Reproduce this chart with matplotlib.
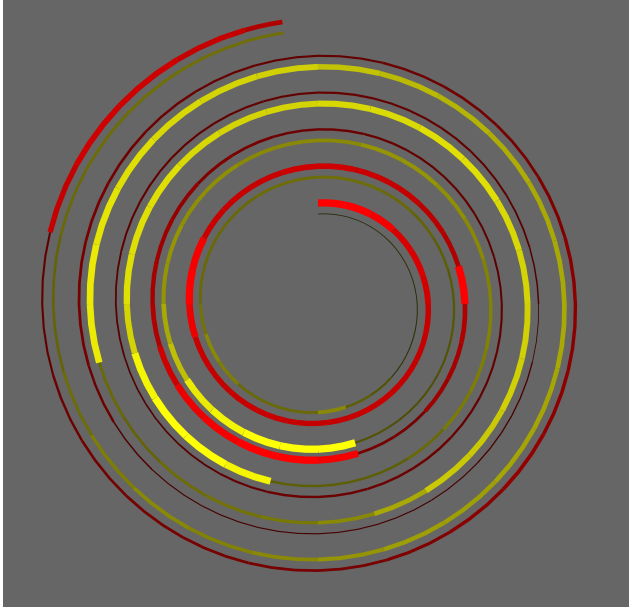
import numpy as np
import matplotlib
matplotlib.use("Agg")
import matplotlib.pyplot as plt
from matplotlib.collections import LineCollection

# ---- data: one value (0..1) per 15-degree step of the spiral, 24 steps per turn ----
red_values = [
    1.0, 1.0, 0.95, 0.8, 0.8, 0.78, 0.72, 0.7, 0.7, 0.72, 0.72, 0.7,
    0.7, 0.72, 0.72, 0.7, 0.72, 0.9, 1.0, 0.95, 0.72, 0.72, 0.72, 0.75,
    0.75, 0.72, 0.7, 0.65, 0.6, 1.0, 0.6, 0.55, 0.5, 0.3, 0.3, 0.95,
    1.0, 1.0, 0.95, 0.9, 0.75, 0.6, 0.55, 0.5, 0.45, 0.35, 0.3, 0.25,
    0.25, 0.22, 0.2, 0.2, 0.18, 0.18, 0.2, 0.2, 0.22, 0.25, 0.25, 0.25,
    0.25, 0.2, 0.15, 0.12, 0.12, 0.15, 0.15, 0.18, 0.2, 0.2, 0.2, 0.2,
    0.22, 0.2, 0.2, 0.18, 0.15, 0.1, 0.0, 0.08, 0.08, 0.05, 0.05, 0.05,
    0.05, 0.05, 0.05, 0.1, 0.25, 0.3, 0.3, 0.3, 0.28, 0.25, 0.22, 0.2,
    0.2, 0.25, 0.28, 0.3, 0.35, 0.4, 0.4, 0.42, 0.45, 0.4, 0.35, 0.3,
    0.3, 0.3, 0.3, 0.28, 0.25, 0.2, 0.2, 0.7, 0.75, 0.75, 0.7, 0.6,
]
yellow_values = [
    0.0, 0.0, 0.0, 0.02, 0.02, 0.03, 0.03, 0.05, 0.05, 0.2, 0.25, 0.45,
    0.3, 0.3, 0.3, 0.4, 0.45, 0.35, 0.3, 0.3, 0.3, 0.3, 0.32, 0.32,
    0.33, 0.32, 0.3, 0.28, 0.25, 0.23, 0.22, 0.2, 0.18, 0.18, 0.2, 1.0,
    1.0, 1.0, 0.95, 0.9, 0.7, 0.6, 0.5, 0.5, 0.48, 0.48, 0.45, 0.45,
    0.45, 0.5, 0.5, 0.48, 0.45, 0.42, 0.42, 0.4, 0.38, 0.3, 0.25, 0.25,
    0.25, 0.95, 1.0, 1.0, 0.95, 0.8, 0.85, 0.85, 0.85, 0.82, 0.8, 0.8,
    0.82, 0.83, 0.85, 0.85, 0.82, 0.8, 0.78, 0.78, 0.75, 0.75, 0.6, 0.45,
    0.37, 0.35, 0.32, 0.28, 0.3, 0.9, 0.9, 0.88, 0.85, 0.82, 0.8, 0.78,
    0.72, 0.68, 0.65, 0.62, 0.6, 0.6, 0.6, 0.58, 0.58, 0.55, 0.55, 0.5,
    0.45, 0.42, 0.45, 0.4, 0.32, 0.28, 0.28, 0.3, 0.32, 0.33, 0.33, 0.33,
]

# ---- geometry (layout) ----
STEPS_PER_TURN = 24
TURNS = 4.98
PITCH = 36.8
R0_RED, R0_YEL = 101.0, 90.0
DPI = 100
W, H = 629, 612


def spiral_segments(values, r0, sub=3):
    n = len(values)
    t_edges = np.minimum(np.arange(n + 1) / STEPS_PER_TURN, TURNS)
    segs = []
    for i in range(n):
        t = np.linspace(t_edges[i], t_edges[i + 1], sub + 1)
        th = 2 * np.pi * t
        r = r0 + PITCH * t
        segs.append(np.column_stack([r * np.sin(th), r * np.cos(th)]))
    return segs


def widths(values):
    v = np.asarray(values)
    return (0.8 + 6.5 * v) * 72.0 / DPI


def red_colors(values):
    v = np.asarray(values)
    return [((60 + 195 * x) / 255, 0, 0) for x in v]


def yellow_colors(values):
    v = np.asarray(values)
    return [((40 + 215 * x) / 255, (40 + 215 * x) / 255, 0.02) for x in v]


fig = plt.figure(figsize=(W / DPI, H / DPI), dpi=DPI, facecolor="white")
ax = fig.add_axes([3 / W, 5 / H, (W - 3) / W, (H - 5) / H])
ax.set_xlim(-315, 311)
ax.set_ylim(-303, 304)
ax.axis("off")
ax.add_patch(plt.Rectangle((0, 0), 1, 1, transform=ax.transAxes,
                           facecolor="#666666", edgecolor="none", zorder=0))

yl = LineCollection(spiral_segments(yellow_values, R0_YEL),
                    colors=yellow_colors(yellow_values),
                    linewidths=widths(yellow_values),
                    capstyle="butt", joinstyle="round", zorder=2)
rl = LineCollection(spiral_segments(red_values, R0_RED),
                    colors=red_colors(red_values),
                    linewidths=widths(red_values),
                    capstyle="butt", joinstyle="round", zorder=3)
ax.add_collection(yl)
ax.add_collection(rl)

fig.savefig("out.png", dpi=DPI, facecolor="white")
